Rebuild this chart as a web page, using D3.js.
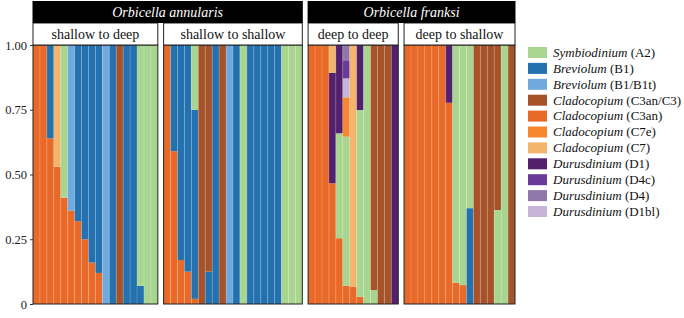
<!DOCTYPE html>
<html>
<head>
<meta charset="utf-8">
<script src="https://cdn.jsdelivr.net/npm/d3@7"></script>
<style>
  body { margin: 0; background: #fff; }
</style>
</head>
<body>
<div id="chart"></div>
<script>
// clades, in legend order
const clades = ["A2", "B1", "B1/B1t", "C3an/C3", "C3an", "C7e", "C7", "D1", "D4c", "D4", "D1bl"];
const genera = ["Symbiodinium", "Breviolum", "Breviolum", "Cladocopium", "Cladocopium", "Cladocopium",
                "Cladocopium", "Durusdinium", "Durusdinium", "Durusdinium", "Durusdinium"];
const cladeColors = ["#a8d590", "#2471b0", "#70aadc", "#a65329", "#e96a28", "#f6872e",
                     "#f5b46c", "#52206d", "#6b3a98", "#9077aa", "#c6b4d9"];

// facet labels
const species = ["Orbicella annularis", "Orbicella franksi"];
const transplants = ["shallow to deep", "shallow to shallow", "deep to deep", "deep to shallow"];

// each sample: [clade, proportion] from the bottom of the bar upward
const shallowToDeep = [
  [["C3an", 1]],
  [["C3an", 1]],
  [["C3an", 0.64], ["B1", 0.36]],
  [["C3an", 0.53], ["C7", 0.47]],
  [["C3an", 0.41], ["A2", 0.59]],
  [["C3an", 0.36], ["B1/B1t", 0.64]],
  [["C3an", 0.32], ["B1", 0.68]],
  [["C3an", 0.25], ["B1", 0.75]],
  [["C3an", 0.16], ["B1", 0.84]],
  [["C3an", 0.12], ["B1", 0.88]],
  [["B1/B1t", 1]],
  [["B1", 1]],
  [["C3an/C3", 1]],
  [["B1", 1]],
  [["B1", 1]],
  [["B1", 0.07], ["A2", 0.93]],
  [["A2", 1]],
  [["A2", 1]]
];
const shallowToShallow = [
  [["C3an", 1]],
  [["C3an", 0.59], ["B1", 0.41]],
  [["C3an", 0.17], ["B1", 0.83]],
  [["C3an", 0.125], ["B1", 0.875]],
  [["C3an", 0.02], ["B1", 0.73], ["A2", 0.25]],
  [["C3an/C3", 1]],
  [["B1", 0.125], ["C3an/C3", 0.875]],
  [["B1", 1]],
  [["C3an/C3", 1]],
  [["B1/B1t", 1]],
  [["B1", 1]],
  [["A2", 1]],
  [["B1", 1]],
  [["B1", 1]],
  [["B1", 1]],
  [["B1", 1]],
  [["B1", 1]],
  [["A2", 1]],
  [["A2", 1]],
  [["A2", 1]]
];
const deepToDeep = [
  [["C3an", 1]],
  [["C3an", 1]],
  [["C3an", 1]],
  [["C3an", 0.466], ["D1", 0.427], ["C7", 0.107]],
  [["C3an", 0.254], ["A2", 0.405], ["D1", 0.341]],
  [["C3an", 0.07], ["A2", 0.576], ["C7e", 0.152], ["D1bl", 0.073], ["D4c", 0.07], ["D4", 0.059]],
  [["C3an", 0.066], ["C7", 0.934]],
  [["C3an", 0.028], ["A2", 0.721], ["D1", 0.251]],
  [["A2", 1]],
  [["A2", 0.054], ["C3an/C3", 0.946]],
  [["C3an/C3", 1]],
  [["C3an/C3", 1]],
  [["D1", 1]]
];
const deepToShallow = [
  [["C3an", 1]],
  [["C3an", 1]],
  [["C3an", 1]],
  [["C3an", 1]],
  [["C3an", 1]],
  [["C3an", 1]],
  [["C3an", 0.777], ["D1", 0.223]],
  [["C3an", 0.082], ["A2", 0.918]],
  [["C3an", 0.073], ["A2", 0.927]],
  [["B1", 0.37], ["A2", 0.63]],
  [["C3an/C3", 1]],
  [["C3an/C3", 1]],
  [["C3an/C3", 1]],
  [["A2", 0.363], ["C3an/C3", 0.637]],
  [["A2", 1]],
  [["C3an/C3", 1]]
];
const panelData = [shallowToDeep, shallowToShallow, deepToDeep, deepToShallow];
const yTicks = [0, 0.25, 0.5, 0.75, 1];

// layout
const width = 684, height = 318;
const plotLeft = 33, plotRight = 515, panelGap = 5.8;
const plotTop = 45, plotBottom = 304;
const stripTop = 1, stripMid = 23;
const serif = "'Liberation Serif', 'Times New Roman', 'DejaVu Serif', serif";

const color = d3.scaleOrdinal().domain(clades).range(cladeColors);

const svg = d3.select("#chart")
  .append("svg")
    .attr("width", width)
    .attr("height", height)
    .style("font-family", serif);

const y = d3.scaleLinear()
  .domain([0, 1])
  .range([plotBottom, plotTop]);

// panel widths follow the number of samples (free x space)
const nTotal = d3.sum(panelData, d => d.length);
const unit = (plotRight - plotLeft - panelGap * (panelData.length - 1)) / nTotal;
let cursor = plotLeft;
const panels = panelData.map((d, i) => {
  const x0 = cursor, x1 = cursor + d.length * unit;
  cursor = x1 + panelGap;
  return {data: d, label: transplants[i], x0: x0, x1: x1};
});

panels.forEach(function(p) {
  const x = d3.scaleBand()
    .domain(d3.range(p.data.length))
    .range([p.x0, p.x1])
    .padding(0);

  const g = svg.append("g");

  // stacked segments
  p.data.forEach(function(sample, i) {
    let acc = 0;
    sample.forEach(function(seg) {
      g.append("rect")
        .attr("x", x(i))
        .attr("width", x.bandwidth())
        .attr("y", y(acc + seg[1]))
        .attr("height", y(acc) - y(acc + seg[1]))
        .attr("fill", color(seg[0]));
      acc += seg[1];
    });
  });

  // faint separators between samples
  g.selectAll(".sep")
    .data(d3.range(1, p.data.length))
    .enter()
    .append("line")
      .attr("x1", d => x(d)).attr("x2", d => x(d))
      .attr("y1", plotTop).attr("y2", plotBottom)
      .attr("stroke", "#fff")
      .attr("stroke-opacity", 0.3)
      .attr("stroke-width", 0.6);

  // panel border
  g.append("rect")
    .attr("x", p.x0).attr("y", plotTop)
    .attr("width", p.x1 - p.x0).attr("height", plotBottom - plotTop)
    .attr("fill", "none")
    .attr("stroke", "#222")
    .attr("stroke-width", 1);

  // white strip
  g.append("rect")
    .attr("x", p.x0).attr("y", stripMid)
    .attr("width", p.x1 - p.x0).attr("height", plotTop - stripMid)
    .attr("fill", "#fff")
    .attr("stroke", "#222")
    .attr("stroke-width", 1);
  g.append("text")
    .attr("x", (p.x0 + p.x1) / 2)
    .attr("y", (stripMid + plotTop) / 2 + 5)
    .attr("text-anchor", "middle")
    .style("font-family", serif)
    .style("font-size", "14px")
    .attr("fill", "#111")
    .text(p.label);
});

// black species strips span two panels each
species.forEach(function(s, i) {
  const a = panels[i * 2], b = panels[i * 2 + 1];
  svg.append("rect")
    .attr("x", a.x0 - 0.5).attr("y", stripTop)
    .attr("width", b.x1 - a.x0 + 1).attr("height", stripMid - stripTop)
    .attr("fill", "#000");
  svg.append("text")
    .attr("x", (a.x0 + b.x1) / 2)
    .attr("y", (stripTop + stripMid) / 2 + 5)
    .attr("text-anchor", "middle")
    .style("font-family", serif)
    .style("font-size", "14px")
    .style("font-style", "italic")
    .attr("fill", "#fff")
    .text(s);
});

// y axis
const yAxis = svg.append("g")
  .attr("transform", `translate(${plotLeft},0)`)
  .call(d3.axisLeft(y)
    .tickValues(yTicks)
    .tickFormat(d => d === 0 ? "0" : d3.format(".2f")(d))
    .tickSizeInner(3)
    .tickSizeOuter(0));
yAxis.attr("font-family", null);
yAxis.select(".domain").remove();
yAxis.selectAll("line").attr("stroke", "#333");
yAxis.selectAll("text")
  .style("font-family", serif)
  .style("font-size", "12.5px")
  .attr("fill", "#222");

// legend
const legend = svg.append("g").attr("transform", "translate(528,47)");
clades.forEach(function(c, i) {
  const row = legend.append("g").attr("transform", `translate(0,${i * 15.9})`);
  row.append("rect")
    .attr("width", 19).attr("height", 11)
    .attr("fill", cladeColors[i]);
  const t = row.append("text")
    .attr("x", 25).attr("y", 9.8)
    .style("font-family", serif)
    .style("font-size", "13px")
    .attr("fill", "#111");
  t.append("tspan").style("font-style", "italic").text(genera[i]);
  t.append("tspan").text(" (" + c + ")");
});
</script>
</body>
</html>
